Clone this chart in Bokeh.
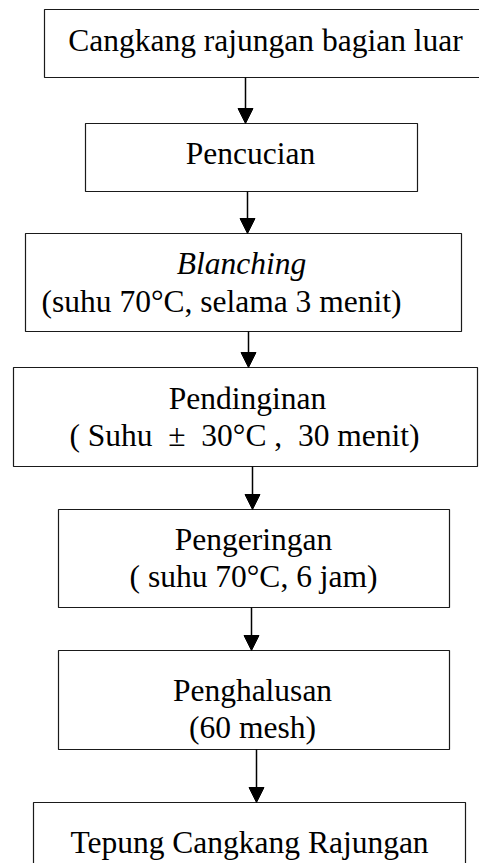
from bokeh.plotting import figure
from bokeh.models import Range1d, ColumnDataSource, Arrow, NormalHead
from bokeh.core.properties import value
from bokeh.embed import file_html
from bokeh.resources import INLINE

NB = "\u00a0"

# ---- content (flowchart steps) ----
step_titles = [
    "Cangkang rajungan bagian luar",
    "Pencucian",
    "Blanching",
    "Pendinginan",
    "Pengeringan",
    "Penghalusan",
    "Tepung Cangkang Rajungan",
]
step_details = [
    "",
    "",
    "(suhu 70°C, selama 3 menit)",
    "( Suhu" + NB * 2 + "±" + NB * 2 + "30°C" + NB + "," + NB * 2 + "30 menit)",
    "( suhu 70°C, 6 jam)",
    "(60 mesh)",
    "",
]
title_styles = ["normal", "normal", "italic", "normal", "normal", "normal", "normal"]

# ---- layout (screen-pixel coordinates of the page) ----
box_left = [44, 85, 25, 13, 58, 58, 33]
box_right = [482, 417, 461, 477, 449, 449, 465]
box_top = [9, 123, 233, 367, 509, 650, 802]
box_bottom = [77, 191, 331, 466, 607, 749, 870]
title_base = [50, 163, 273, 408, 549, 700, 852]
detail_base = [None, None, 311, 445, 586, 737, None]
title_cx = [265, 250, 241, 247, 253, 252, 249]
detail_cx = [None, None, 221, 244, 253, 252, None]
arrow_x = [245, 247, 248, 252, 251, 256]
BASE_ADJ = -10  # renderer draws text slightly below the requested baseline

W, H = 479, 863
p = figure(width=W, height=H, output_backend="svg", toolbar_location=None,
           x_range=Range1d(0, W), y_range=Range1d(H, 0),
           min_border=0)
p.axis.visible = False
p.grid.visible = False
p.outline_line_color = None
p.background_fill_color = "white"
p.border_fill_color = "white"

p.quad(left=box_left, right=box_right, top=box_top, bottom=box_bottom,
       fill_color="white", line_color="#1a1a1a", line_width=1.2)

xs, ys, txt, sty = [], [], [], []
for i, t in enumerate(step_titles):
    xs.append(title_cx[i]); ys.append(title_base[i] + BASE_ADJ); txt.append(t); sty.append(title_styles[i])
    if step_details[i]:
        xs.append(detail_cx[i]); ys.append(detail_base[i] + BASE_ADJ); txt.append(step_details[i]); sty.append("normal")

src = ColumnDataSource(dict(x=xs, y=ys, text=txt, style=sty))
p.text(x="x", y="y", text="text", source=src, text_font=value("Liberation Serif"),
       text_font_size="31.5px", text_align="center", text_baseline="alphabetic",
       text_color="black", text_font_style="style")

for i in range(len(step_titles) - 1):
    p.add_layout(Arrow(end=NormalHead(size=15, fill_color="black", line_color="black"),
                       x_start=arrow_x[i], y_start=box_bottom[i],
                       x_end=arrow_x[i], y_end=box_top[i + 1],
                       line_color="black", line_width=1.5))

open("out.html", "w").write(file_html(p, INLINE))
